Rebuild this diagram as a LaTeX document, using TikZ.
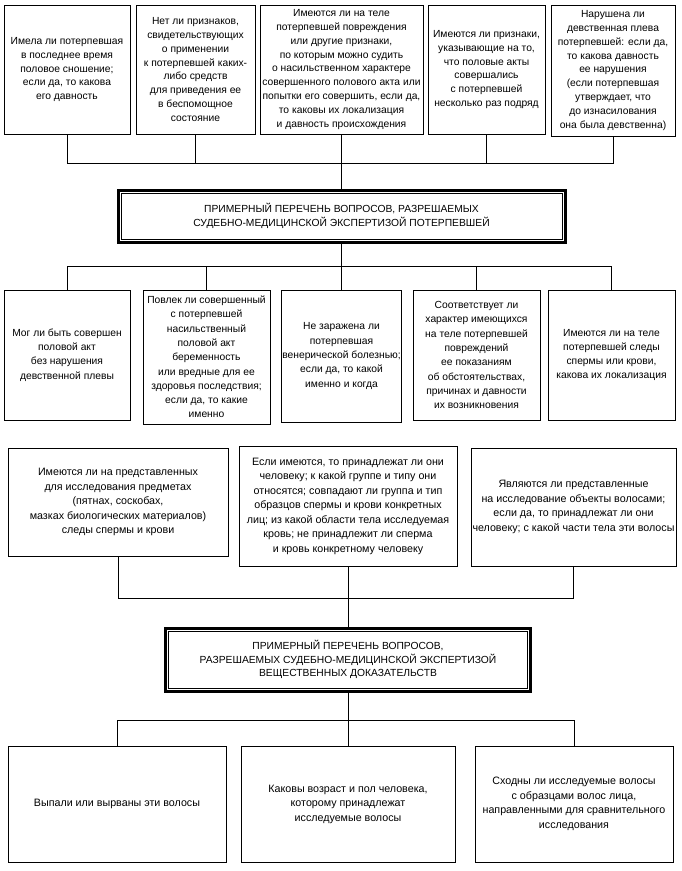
\documentclass[tikz,border=0pt]{standalone}
\usepackage{fontspec}
\setmainfont{Liberation Sans}
\begin{document}
\begin{tikzpicture}[x=1pt,y=-1pt,
  fa/.style={font={\fontsize{10.3}{13.8}\selectfont}},
  fb/.style={font={\fontsize{10.3}{14.3}\selectfont}},
  fc/.style={font={\fontsize{10.7}{14.5}\selectfont}},
  ft/.style={font={\fontsize{10.3}{13.5}\selectfont}},
  qbox/.style={draw, line width=1pt, align=center, inner xsep=0.5pt, inner ysep=1pt},
  ttl/.style={draw, line width=3pt, align=center, inner sep=1pt, ft},
  inner/.style={line width=0.8pt},
  conn/.style={line width=0.9pt}]
\useasboundingbox (0,0) rectangle (681,871);
% top row
\node[qbox, fa, minimum width=126, minimum height=129] (b1) at (67,69.5) {Имела ли потерпевшая\\в последнее время\\половое сношение;\\если да, то какова\\его давность};
\node[qbox, fa, minimum width=119, minimum height=129] (b2) at (195.5,69.5) {Нет ли признаков,\\свидетельствующих\\о применении\\к потерпевшей каких-\\либо средств\\для приведения ее\\в беспомощное\\состояние};
\node[qbox, fa, minimum width=163, minimum height=129] (b3) at (341.5,69.5) {Имеются ли на теле\\потерпевшей повреждения\\или другие признаки,\\по которым можно судить\\о насильственном характере\\совершенного полового акта или\\попытки его совершить, если да,\\то каковы их локализация\\и давность происхождения};
\node[qbox, fa, minimum width=117, minimum height=129] (b4) at (486.5,69.5) {Имеются ли признаки,\\указывающие на то,\\что половые акты\\совершались\\с потерпевшей\\несколько раз подряд};
\node[qbox, fa, minimum width=124, minimum height=131] (b5) at (613,70.5) {Нарушена ли\\девственная плева\\потерпевшей: если да,\\то какова давность\\ее нарушения\\(если потерпевшая\\утверждает, что\\до изнасилования\\она была девственна)};
% title 1
\node[ttl, minimum width=447, minimum height=52] (t1) at (341.5,216) {ПРИМЕРНЫЙ ПЕРЕЧЕНЬ ВОПРОСОВ, РАЗРЕШАЕМЫХ\\СУДЕБНО-МЕДИЦИНСКОЙ ЭКСПЕРТИЗОЙ ПОТЕРПЕВШЕЙ};
\draw[inner] ([shift={(4.5pt,-4.5pt)}]t1.north west) rectangle ([shift={(-4.5pt,4.5pt)}]t1.south east);
\coordinate (bus1) at (341.5,163);
\draw[conn] (b1.south) -- (b1.south |- bus1) -- (b5.south |- bus1) -- (b5.south);
\draw[conn] (b2.south) -- (b2.south |- bus1);
\draw[conn] (b3.south) -- (b3.south |- bus1);
\draw[conn] (b4.south) -- (b4.south |- bus1);
\draw[conn] (t1.north) -- (t1.north |- bus1);
% middle row
\node[qbox, fb, minimum width=126, minimum height=130] (m1) at (67,355) {Мог ли быть совершен\\половой акт\\без нарушения\\девственной плевы};
\node[qbox, fb, minimum width=127, minimum height=134] (m2) at (206.5,357) {Повлек ли совершенный\\с потерпевшей\\насильственный\\половой акт\\беременность\\или вредные для ее\\здоровья последствия;\\если да, то какие\\именно};
\node[qbox, fb, minimum width=120, minimum height=132] (m3) at (341.5,356) {Не заражена ли\\потерпевшая\\венерической болезнью;\\если да, то какой\\именно и когда};
\node[qbox, fb, minimum width=127, minimum height=130] (m4) at (476.5,355) {Соответствует ли\\характер имеющихся\\на теле потерпевшей\\повреждений\\ее показаниям\\об обстоятельствах,\\причинах и давности\\их возникновения};
\node[qbox, fb, minimum width=127, minimum height=130] (m5) at (611.5,355) {Имеются ли на теле\\потерпевшей следы\\спермы или крови,\\какова их локализация};
\coordinate (bus2) at (341.5,266);
\draw[conn] (t1.south) -- (bus2);
\draw[conn] (m1.north) -- (m1.north |- bus2) -- (m5.north |- bus2) -- (m5.north);
\draw[conn] (m2.north) -- (m2.north |- bus2);
\draw[conn] (m3.north) -- (m3.north |- bus2);
\draw[conn] (m4.north) -- (m4.north |- bus2);
% third row
\node[qbox, fc, minimum width=220, minimum height=108] (r1) at (118,502) {Имеются ли на представленных\\для исследования предметах\\(пятнах, соскобах,\\мазках биологических материалов)\\следы спермы и крови};
\node[qbox, fc, minimum width=218, minimum height=120] (r2) at (348,506) {Если имеются, то принадлежат ли они\\человеку; к какой группе и типу они\\относятся; совпадают ли группа и тип\\образцов спермы и крови конкретных\\лиц; из какой области тела исследуемая\\кровь; не принадлежит ли сперма\\и кровь конкретному человеку};
\node[qbox, fc, minimum width=205, minimum height=118] (r3) at (573.5,507) {Являются ли представленные\\на исследование объекты волосами;\\если да, то принадлежат ли они\\человеку; с какой части тела эти волосы};
% title 2
\node[ttl, minimum width=365, minimum height=63] (t2) at (348,659.5) {ПРИМЕРНЫЙ ПЕРЕЧЕНЬ ВОПРОСОВ,\\РАЗРЕШАЕМЫХ СУДЕБНО-МЕДИЦИНСКОЙ ЭКСПЕРТИЗОЙ\\ВЕЩЕСТВЕННЫХ ДОКАЗАТЕЛЬСТВ};
\draw[inner] ([shift={(4.5pt,-4.5pt)}]t2.north west) rectangle ([shift={(-4.5pt,4.5pt)}]t2.south east);
\coordinate (bus3) at (348,598);
\draw[conn] (r1.south) -- (r1.south |- bus3) -- (r3.south |- bus3) -- (r3.south);
\draw[conn] (r2.south) -- (r2.south |- bus3);
\draw[conn] (t2.north) -- (t2.north |- bus3);
% bottom row
\node[qbox, fc, minimum width=218, minimum height=116] (l1) at (117,804) {Выпали или вырваны эти волосы};
\node[qbox, fc, minimum width=214, minimum height=116] (l2) at (348,804) {Каковы возраст и пол человека,\\которому принадлежат\\исследуемые волосы};
\node[qbox, fc, minimum width=198, minimum height=116] (l3) at (574,804) {Сходны ли исследуемые волосы\\с образцами волос лица,\\направленными для сравнительного\\исследования};
\coordinate (bus4) at (348,720);
\draw[conn] (t2.south) -- (bus4);
\draw[conn] (l1.north) -- (l1.north |- bus4) -- (l3.north |- bus4) -- (l3.north);
\draw[conn] (l2.north) -- (l2.north |- bus4);
\end{tikzpicture}
\end{document}
